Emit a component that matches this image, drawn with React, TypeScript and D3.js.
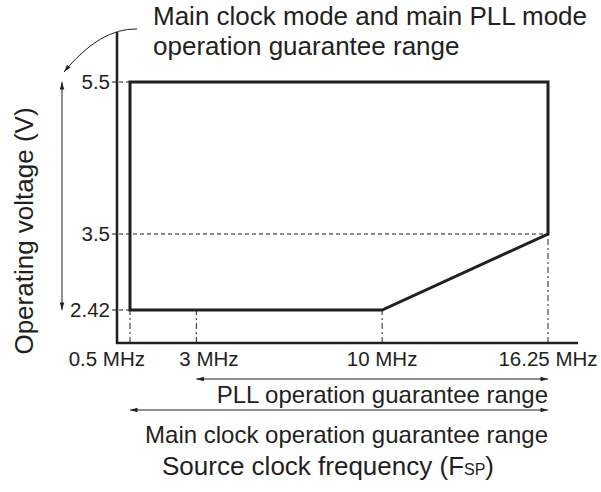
import React, { useEffect, useRef } from 'react';
import * as d3 from 'd3';

// frequency ticks (MHz) and their labels
const freqTicks = [0.5, 3, 10, 16.25];
const freqLabels = ['0.5 MHz', '3 MHz', '10 MHz', '16.25 MHz'];
// voltage at which each frequency guide stops
const freqGuideVolt = [2.42, 2.42, 2.42, 3.5];

// voltage ticks (V) and labels
const voltTicks = [2.42, 3.5, 5.5];
const voltLabels = ['2.42', '3.5', '5.5'];
// frequency at which each voltage guide stops
const voltGuideFreq = [0.5, 16.25, 0.5];

// outline of the guaranteed operating region
const regionFreq = [0.5, 0.5, 16.25, 16.25, 10, 0.5];
const regionVolt = [2.42, 5.5, 5.5, 3.5, 2.42, 2.42];

// range arrows
const pllRange = [3, 16.25];
const mainRange = [0.5, 16.25];

const INK = '#231f20';
const FONT = '"Liberation Sans", Arial, Helvetica, sans-serif';

const App = () => {
  const svgRef = useRef<SVGSVGElement>(null);

  useEffect(() => {
    const svg = d3.select(svgRef.current);
    svg.selectAll('*').remove();

    const width = 601;
    const height = 492;
    const axisLeft = 117;
    const axisBottom = 343;
    const axisTop = 32;
    const axisRight = 578;

    const x = d3.scaleLinear().domain([0.5, 16.25]).range([130, 548]);
    // schematic (not to scale) voltage axis
    const y = d3.scaleLinear().domain([2.42, 3.5, 5.5]).range([310, 234, 82]);

    svg.attr('width', width).attr('height', height).style('font-family', FONT);

    // arrow heads
    const defs = svg.append('defs');
    defs.append('marker')
      .attr('id', 'head')
      .attr('viewBox', '0 -4 10 8')
      .attr('refX', 10)
      .attr('refY', 0)
      .attr('markerUnits', 'userSpaceOnUse')
      .attr('markerWidth', 9)
      .attr('markerHeight', 6)
      .attr('orient', 'auto-start-reverse')
      .append('path')
      .attr('d', 'M0,-3L10,0L0,3Z')
      .attr('fill', INK);

    // guide lines
    const guides = svg.append('g')
      .attr('stroke', INK)
      .attr('stroke-width', 1)
      .attr('fill', 'none');

    guides.selectAll('line.h')
      .data(voltTicks)
      .join('line')
      .attr('class', 'h')
      .attr('x1', 112)
      .attr('x2', (d, i) => x(voltGuideFreq[i]))
      .attr('y1', d => y(d))
      .attr('y2', d => y(d))
      .attr('stroke-dasharray', '4,3');

    guides.selectAll('line.v')
      .data(freqTicks)
      .join('line')
      .attr('class', 'v')
      .attr('x1', d => x(d))
      .attr('x2', d => x(d))
      .attr('y1', axisBottom)
      .attr('y2', (d, i) => y(freqGuideVolt[i]))
      .attr('stroke-dasharray', '6,3,2,3');

    // axes
    svg.append('path')
      .attr('d', `M${axisLeft},${axisTop}V${axisBottom}H${axisRight}`)
      .attr('fill', 'none')
      .attr('stroke', INK)
      .attr('stroke-width', 2.5);

    // operating region
    const outline = d3.line<number>()
      .x(d => x(regionFreq[d]))
      .y(d => y(regionVolt[d]));
    svg.append('path')
      .attr('d', outline(d3.range(regionFreq.length)) + 'Z')
      .attr('fill', 'none')
      .attr('stroke', INK)
      .attr('stroke-width', 3)
      .attr('stroke-linejoin', 'miter');

    // y tick labels
    svg.append('g')
      .selectAll('text')
      .data(voltTicks)
      .join('text')
      .attr('x', 110)
      .attr('y', d => y(d))
      .attr('dy', '0.36em')
      .attr('text-anchor', 'end')
      .attr('fill', INK)
      .style('font-size', '20.5px')
      .text((d, i) => voltLabels[i]);

    // x tick labels (first two nudged apart so they don't collide)
    const labelShift = [15, -17, 0, 0];
    const labelAnchor = ['end', 'start', 'middle', 'middle'];
    svg.append('g')
      .selectAll('text')
      .data(freqTicks)
      .join('text')
      .attr('x', (d, i) => x(d) + labelShift[i])
      .attr('y', 366)
      .attr('text-anchor', (d, i) => labelAnchor[i])
      .attr('fill', INK)
      .style('font-size', '20.5px')
      .text((d, i) => freqLabels[i]);

    // y axis title
    svg.append('text')
      .attr('transform', 'translate(33,231) rotate(-90)')
      .attr('text-anchor', 'middle')
      .attr('fill', INK)
      .style('font-size', '26px')
      .text('Operating voltage (V)');

    // vertical range arrow + curved pointer
    svg.append('line')
      .attr('x1', 62).attr('x2', 62)
      .attr('y1', y(5.5)).attr('y2', y(2.42))
      .attr('stroke', INK)
      .attr('stroke-width', 1)
      .attr('marker-start', 'url(#head)')
      .attr('marker-end', 'url(#head)');

    svg.append('path')
      .attr('d', 'M137,29Q100,28 64,72')
      .attr('fill', 'none')
      .attr('stroke', INK)
      .attr('stroke-width', 1)
      .attr('marker-end', 'url(#head)');

    const note = svg.append('text')
      .attr('fill', INK)
      .style('font-size', '26px');
    note.append('tspan').attr('x', 153).attr('y', 25).text('Main clock mode and main PLL mode');
    note.append('tspan').attr('x', 153).attr('y', 55).text('operation guarantee range');

    // horizontal range arrows
    const ranges = [
      { r: pllRange, ay: 379, ty: 403, label: 'PLL operation guarantee range' },
      { r: mainRange, ay: 410, ty: 443, label: 'Main clock operation guarantee range' },
    ];
    ranges.forEach(g => {
      svg.append('line')
        .attr('x1', x(g.r[0])).attr('x2', x(g.r[1]))
        .attr('y1', g.ay).attr('y2', g.ay)
        .attr('stroke', INK)
        .attr('stroke-width', 1)
        .attr('marker-start', 'url(#head)')
        .attr('marker-end', 'url(#head)');
      svg.append('text')
        .attr('x', x(g.r[1]))
        .attr('y', g.ty)
        .attr('text-anchor', 'end')
        .attr('fill', INK)
        .style('font-size', '24px')
        .text(g.label);
    });

    // x axis title
    const xt = svg.append('text')
      .attr('x', 162)
      .attr('y', 475)
      .attr('fill', INK)
      .style('font-size', '26px');
    xt.append('tspan').text('Source clock frequency (F');
    xt.append('tspan').style('font-size', '16px').text('SP');
    xt.append('tspan').text(')');
  }, []);

  return (
    <svg
      ref={svgRef}
      width="601"
      height="492"
      style={{ position: 'absolute', left: 0, top: 0, background: '#fff' }}
    ></svg>
  );
};

export default App;
